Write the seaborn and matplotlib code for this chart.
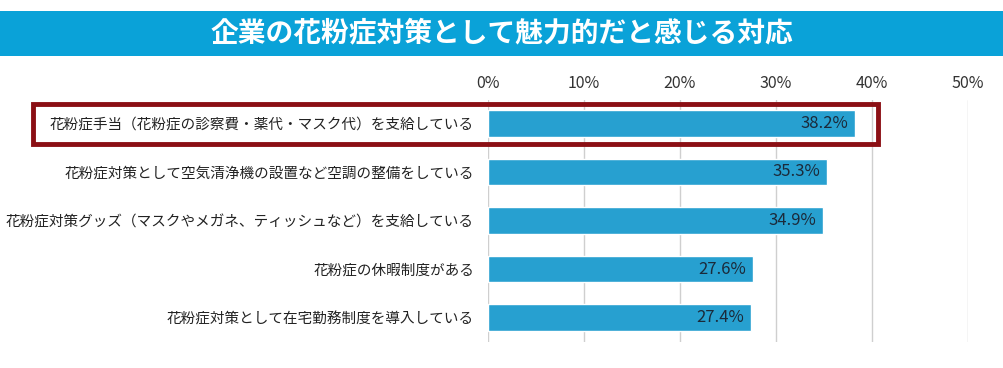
import pandas as pd
import seaborn as sns
import matplotlib.pyplot as plt
from matplotlib.patches import Rectangle
from matplotlib.ticker import FuncFormatter

sns.set_theme(style="white")
plt.rcParams['font.family'] = ['Noto Sans CJK JP', 'DejaVu Sans']

title = "企業の花粉症対策として魅力的だと感じる対応"
categories = [
    "花粉症手当（花粉症の診察費・薬代・マスク代）を支給している",
    "花粉症対策として空気清浄機の設置など空調の整備をしている",
    "花粉症対策グッズ（マスクやメガネ、ティッシュなど）を支給している",
    "花粉症の休暇制度がある",
    "花粉症対策として在宅勤務制度を導入している",
]
values = [38.2, 35.3, 34.9, 27.6, 27.4]
xticks = [0, 10, 20, 30, 40, 50]

df = pd.DataFrame({"item": categories, "pct": values})

fig = plt.figure(figsize=(10.04, 3.68), dpi=100)
ax = fig.add_axes([0.486, 0.071, 0.478, 0.657])

sns.barplot(data=df, x="pct", y="item", color="#27a0d0", saturation=1,
            width=0.54, ax=ax)

ax.set_xlim(0, 50)
ax.set_ylim(4.5, -0.48)
ax.set_xticks(xticks)
ax.xaxis.set_major_formatter(FuncFormatter(lambda v, p: f"{v:.0f}%"))
ax.xaxis.tick_top()
ax.tick_params(axis='x', length=0, pad=6, labelsize=11.5, labelcolor="#333333")
ax.tick_params(axis='y', length=0, pad=10, labelsize=10.5, labelcolor="#222222")
ax.grid(axis='x', color="#cfcfcf", linewidth=1)
ax.set_axisbelow(True)
ax.set_xlabel("")
ax.set_ylabel("")
for s in ax.spines.values():
    s.set_visible(False)

for i, v in enumerate(values):
    ax.text(v - 0.7, i, f"{v:.1f}%", ha="right", va="center",
            fontsize=12, color="#1b2a3a")

# title banner
fig.patches.append(Rectangle((0, 0.848), 1, 0.122, transform=fig.transFigure,
                             facecolor="#0aa2d8", edgecolor="none", zorder=0))
fig.text(0.5, 0.909, title, ha="center", va="center", color="white",
         fontsize=20, fontweight="bold")

# highlight box around first item
fig.patches.append(Rectangle((33 / 1004, 1 - 144 / 368), 845 / 1004, 40 / 368,
                             transform=fig.transFigure, facecolor="none",
                             edgecolor="#8b0f14", linewidth=3.5, zorder=5))

fig.savefig("out.png", dpi=100)
